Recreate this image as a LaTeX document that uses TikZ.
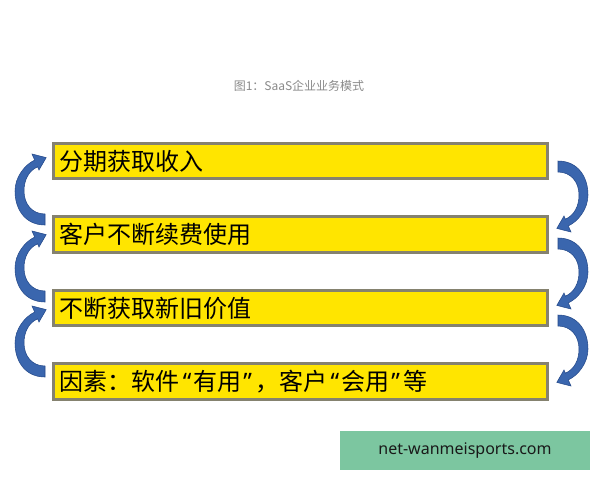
\documentclass[tikz,border=0pt]{standalone}
\usepackage{fontspec}
\setmainfont{Noto Sans}
\newfontfamily\cjk{Noto Sans CJK SC}
\newfontfamily\latinq{Noto Sans}
\newcommand\myopenq{\hspace{2.5pt}{\latinq “}\hspace{1.5pt}}
\newcommand\myclosq{\hspace{1.5pt}{\latinq ”}\hspace{2.5pt}}
\usetikzlibrary{calc}
\definecolor{boxyellow}{HTML}{FFE500}
\definecolor{boxborder}{HTML}{85826F}
\definecolor{arrowfill}{HTML}{3A66AE}
\definecolor{arrowline}{HTML}{24498A}
\definecolor{titlegray}{HTML}{8A8A8A}
\definecolor{markgreen}{HTML}{7CC6A0}
\begin{document}
\begin{tikzpicture}[x=0.75pt,y=-0.75pt,
  box/.style={draw=boxborder, line width=2.25pt, fill=boxyellow,
    text width=361.5pt, inner xsep=4.5pt, inner ysep=0pt, minimum height=26.6pt,
    align=left, font=\cjk\fontsize{18}{20}\selectfont, text=black, anchor=west},
  curvarrow/.pic={
    \filldraw[fill=arrowfill, draw=arrowline, line width=0.4pt]
      (0,-34) .. controls (20,-34) and (30,-18) .. (30,0)
      .. controls (30,14) and (20,26.5) .. (10.3,30.9)
      -- (13,37) -- (-1.2,33.4) -- (6,21) -- (7.4,24.2)
      .. controls (16.4,20.2) and (21,11) .. (21,0)
      .. controls (21,-13) and (13,-23) .. (0,-23) -- cycle;
  }
]
\useasboundingbox (0,0) rectangle (600,480);
\fill[white] (0,0) rectangle (600,480);

\node[font=\cjk\fontsize{9}{11}\selectfont, text=titlegray] (title) at (299,86) {图1：SaaS企业业务模式};

\node[box] (b1) at (52,161) {分期获取收入};
\node[box] (b2) at (52,234.5) {客户不断续费使用};
\node[box] (b3) at (52,308) {不断获取新旧价值};
\node[box] (b4) at (52,381.5) {因素：软件\myopenq 有用\myclosq，客户\myopenq 会用\myclosq 等};

% right arrows (downwards)
\path ($(b1.east)!.5!(b2.east)$) ++(9,-2.75) pic {curvarrow};
\path ($(b2.east)!.5!(b3.east)$) ++(9,0.75) pic {curvarrow};
\path ($(b3.east)!.5!(b4.east)$) ++(9,4.25) pic {curvarrow};

% left arrows (upwards)
\path ($(b1.west)!.5!(b2.west)$) ++(-7,-6.75) pic[rotate=180] {curvarrow};
\path ($(b2.west)!.5!(b3.west)$) ++(-7,-3.25) pic[rotate=180] {curvarrow};
\path ($(b3.west)!.5!(b4.west)$) ++(-7,-1.75) pic[rotate=180] {curvarrow};

\node[fill=markgreen, minimum width=187.5pt, minimum height=29.25pt, inner sep=0pt,
  font=\fontsize{12}{14}\selectfont, text=black!90] (mark) at (465,450.5) {net-wanmeisports.com};
\end{tikzpicture}
\end{document}
